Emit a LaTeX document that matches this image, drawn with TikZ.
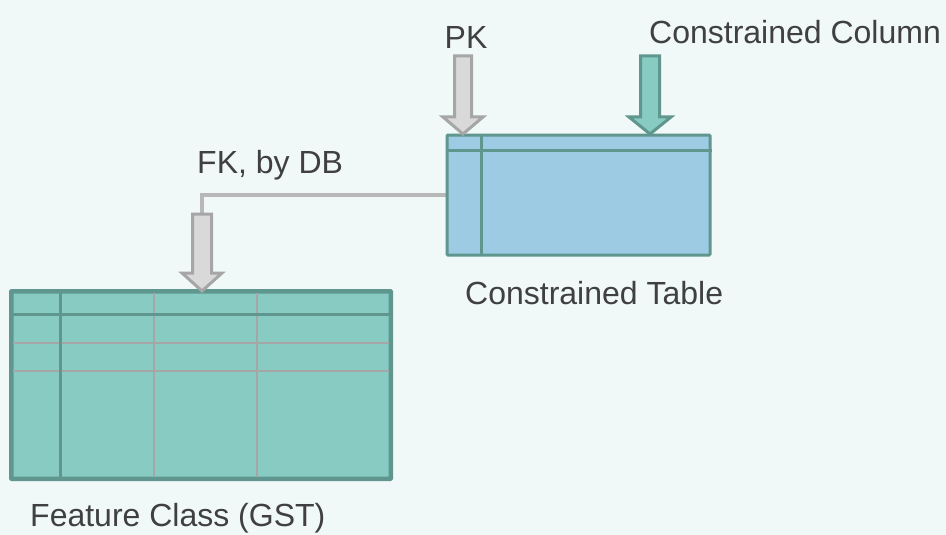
\documentclass[tikz,border=0pt]{standalone}
\usepackage{fontspec}
\setmainfont{Liberation Sans}
\usetikzlibrary{calc}
\definecolor{bgc}{HTML}{F0F8F8}
\definecolor{tealb}{HTML}{5F978F}
\definecolor{tealf}{HTML}{88CBC2}
\definecolor{bluef}{HTML}{9DCBE4}
\definecolor{grayf}{HTML}{D9D9D9}
\definecolor{grayb}{HTML}{A6A6A6}
\definecolor{txt}{HTML}{404040}
\tikzset{
  tbl/.style={draw=tealb, line width=3pt, rounded corners=1pt, inner sep=0pt},
  thick line/.style={draw=tealb, line width=3pt},
  thin line/.style={draw=grayb, line width=1.5pt},
  lbl/.style={text=txt, inner sep=0pt, font=\fontsize{32}{38}\selectfont},
  grayarrow/.style={fill=grayf, draw=grayb, line width=3pt, line join=miter},
  tealarrow/.style={fill=tealf, draw=tealb, line width=3pt, line join=miter},
  fkline/.style={draw=grayb!80, line width=3.5pt, line join=miter}
}
% block arrow: #1 style, #2 x centre, #3 top y, #4 head start y, #5 tip y, #6 shaft half width, #7 head half width
\newcommand\blkarrow[7]{%
  \draw[#1] (#2-#6,#3) -- (#2+#6,#3) -- (#2+#6,#4) -- (#2+#7,#4) -- (#2,#5)
     -- (#2-#7,#4) -- (#2-#6,#4) -- cycle;}
\begin{document}
\begin{tikzpicture}[x=1pt, y=-1pt]
\fill[bgc] (0,0) rectangle (946,535);
\useasboundingbox (0,0) rectangle (946,535);

% FK connector line
\coordinate (fkstart) at (448,195);
\coordinate (fkcorner) at (202,195);
\coordinate (fkend) at (202,214);
\draw[fkline] (fkstart) -- (fkcorner) -- (fkend);

% Constrained table
\node[tbl, fill=bluef, minimum width=263pt, minimum height=120pt] (ct) at (578.5,195) {};
\draw[thick line] (ct.north west |- 0,150) -- (ct.north east |- 0,150);
\draw[thick line] (481,135) -- (481,255);

% Feature class table
\node[tbl, fill=tealf, minimum width=378pt, minimum height=186pt] (fc) at (201,385) {};
\draw[thin line] (13,343) -- (389,343);
\draw[thin line] (13,371) -- (389,371);
\draw[thin line] (154,293) -- (154,477);
\draw[thin line] (257,293) -- (257,477);
\draw[thick line] (13,314) -- (389,314);
\draw[thick line] (60,293) -- (60,477);
\draw[tbl] (fc.north west) rectangle (fc.south east);

% Block arrows
\blkarrow{grayarrow}{463}{56}{117}{134}{8.5}{20}
\blkarrow{tealarrow}{650}{56}{117}{134}{9.5}{21}
\blkarrow{grayarrow}{202}{214}{273}{291}{9.5}{20}

% Labels
\node[lbl, anchor=center] (pk) at (466,37) {PK};
\node[lbl, anchor=west] (cc) at (649,32) {Constrained Column};
\node[lbl, anchor=west] (fk) at (197,165) {FK, by DB};
\node[lbl, anchor=west] (ctl) at (465,293) {Constrained Table};
\node[lbl, anchor=west] (fcl) at (30,518) {Feature Class (GST)};
\end{tikzpicture}
\end{document}
